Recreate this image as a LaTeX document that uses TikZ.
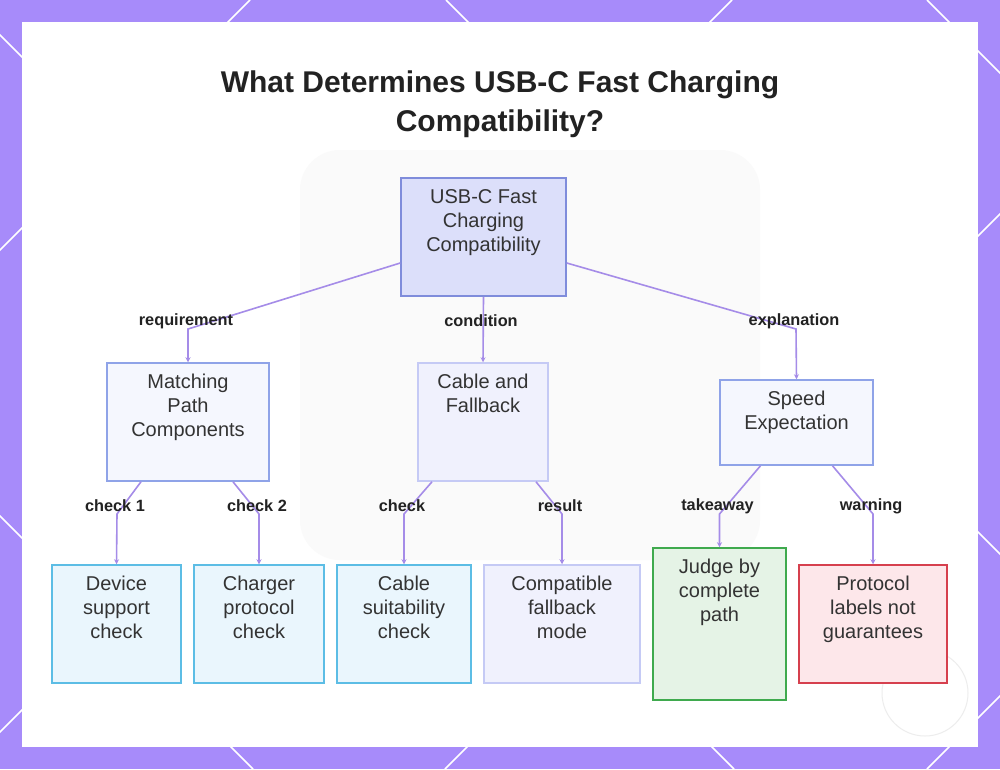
\documentclass[tikz,border=0pt]{standalone}
\usepackage{fontspec}
\setmainfont{Liberation Sans}
\usetikzlibrary{arrows.meta}
\definecolor{frameViolet}{HTML}{A78BFA}
\definecolor{edgeViolet}{HTML}{A58CE8}
\definecolor{inkDark}{HTML}{222222}
\definecolor{inkGray}{HTML}{333333}
\definecolor{rootFill}{HTML}{DCDFFA}
\definecolor{rootLine}{HTML}{7F8CDB}
\definecolor{paleFill}{HTML}{F5F7FE}
\definecolor{paleLine}{HTML}{8FA3E8}
\definecolor{lilacFill}{HTML}{F0F1FD}
\definecolor{lilacLine}{HTML}{C5CAF5}
\definecolor{cyanFill}{HTML}{EAF6FD}
\definecolor{cyanLine}{HTML}{5CBDE5}
\definecolor{greenFill}{HTML}{E5F3E6}
\definecolor{greenLine}{HTML}{3FAA4E}
\definecolor{redFill}{HTML}{FDE7EA}
\definecolor{redLine}{HTML}{D6404E}

\begin{document}
\begin{tikzpicture}[x=1pt, y=-1pt,
  box/.style={draw, line width=1.5pt, inner sep=0pt},
  txt/.style={anchor=north, yshift=-12pt, inner sep=0pt, align=center,
    text=inkGray, font=\fontsize{20}{24}\selectfont},
  lbl/.style={font=\bfseries\fontsize{16.3}{18}\selectfont, text=inkDark,
    inner sep=0pt, xshift=-2pt, yshift=8pt},
  edge/.style={edgeViolet, line width=1.6pt, -{Stealth[length=5pt, width=5pt]}},
]
  % frame with the diamond lattice
  \fill[frameViolet] (0,0) rectangle (1000,769);
  \begin{scope}
    \clip (0,0) rectangle (1000,769);
    \foreach \c in {-232,250,732,1214,1696}
      \draw[white, line width=1.5pt] (\c,0) -- (\c-769,769);
    \foreach \c in {-516,-35,446,927}
      \draw[white, line width=1.5pt] (\c,0) -- (\c+769,769);
  \end{scope}
  \fill[white] (22,22) rectangle (978,747);
  \fill[black!2, rounded corners=40pt] (300,150) rectangle (760,560);
  \draw[black!7, line width=1pt] (925,693) circle (43);
  \fill[white] (902,673) rectangle (945,713);

  % title
  \node[anchor=north, inner sep=0pt, align=center, text=inkDark,
    font=\bfseries\fontsize{30}{39}\selectfont] (title) at (500,71)
    {What Determines USB-C Fast Charging\\Compatibility?};

  % boxes
  \node[box, draw=rootLine, fill=rootFill, minimum width=165, minimum height=118,
    label={[txt]north:{USB-C Fast\\Charging\\Compatibility}}] (root) at (483.5,237) {};
  \node[box, draw=paleLine, fill=paleFill, minimum width=162, minimum height=118,
    label={[txt]north:{Matching\\Path\\Components}}] (match) at (188,422) {};
  \node[box, draw=lilacLine, fill=lilacFill, minimum width=130, minimum height=118,
    label={[txt]north:{Cable and\\Fallback}}] (cable) at (483,422) {};
  \node[box, draw=paleLine, fill=paleFill, minimum width=153, minimum height=85,
    label={[txt]north:{Speed\\Expectation}}] (speed) at (796.5,422.5) {};
  \node[box, draw=cyanLine, fill=cyanFill, minimum width=129, minimum height=118,
    label={[txt]north:{Device\\support\\check}}] (device) at (116.5,624) {};
  \node[box, draw=cyanLine, fill=cyanFill, minimum width=130, minimum height=118,
    label={[txt]north:{Charger\\protocol\\check}}] (charger) at (259,624) {};
  \node[box, draw=cyanLine, fill=cyanFill, minimum width=134, minimum height=118,
    label={[txt]north:{Cable\\suitability\\check}}] (suit) at (404,624) {};
  \node[box, draw=lilacLine, fill=lilacFill, minimum width=156, minimum height=118,
    label={[txt]north:{Compatible\\fallback\\mode}}] (fallback) at (562,624) {};
  \node[box, draw=greenLine, fill=greenFill, minimum width=133, minimum height=152,
    label={[txt]north:{Judge by\\complete\\path}}] (judge) at (719.5,624) {};
  \node[box, draw=redLine, fill=redFill, minimum width=148, minimum height=118,
    label={[txt]north:{Protocol\\labels not\\guarantees}}] (labels) at (873,624) {};

  % bends
  \coordinate (kReq) at (188,329);
  \coordinate (kCond) at (483,329);
  \coordinate (kExp) at (796,329);
  \coordinate (kC1) at (117,514);
  \coordinate (kC2) at (259,514);
  \coordinate (kChk) at (404,514);
  \coordinate (kRes) at (562,514);
  \coordinate (kTake) at (719.5,514);
  \coordinate (kWarn) at (873,514);

  % connectors
  \draw[edge] ([yshift=-26pt]root.west) -- (kReq) -- (match.north);
  \draw[edge] (root.south) -- (cable.north);
  \draw[edge] ([yshift=-26pt]root.east) -- (kExp) -- (speed.north);
  \draw[edge] ([xshift=-47pt]match.south) -- (kC1) -- (device.north);
  \draw[edge] ([xshift=45pt]match.south) -- (kC2) -- (charger.north);
  \draw[edge] ([xshift=-51pt]cable.south) -- (kChk) -- (suit.north);
  \draw[edge] ([xshift=53pt]cable.south) -- (kRes) -- (fallback.north);
  \draw[edge] ([xshift=-36pt]speed.south) -- (kTake) -- (judge.north);
  \draw[edge] ([xshift=36pt]speed.south) -- (kWarn) -- (labels.north);

  % connector labels
  \node[lbl] (lReq) at (kReq) {requirement};
  \node[lbl] (lCond) at (kCond) {condition};
  \node[lbl] (lExp) at (kExp) {explanation};
  \node[lbl] (lC1) at (kC1) {check 1};
  \node[lbl] (lC2) at (kC2) {check 2};
  \node[lbl] (lChk) at (kChk) {check};
  \node[lbl] (lRes) at (kRes) {result};
  \node[lbl] (lTake) at (kTake) {takeaway};
  \node[lbl] (lWarn) at (kWarn) {warning};
\end{tikzpicture}
\end{document}
